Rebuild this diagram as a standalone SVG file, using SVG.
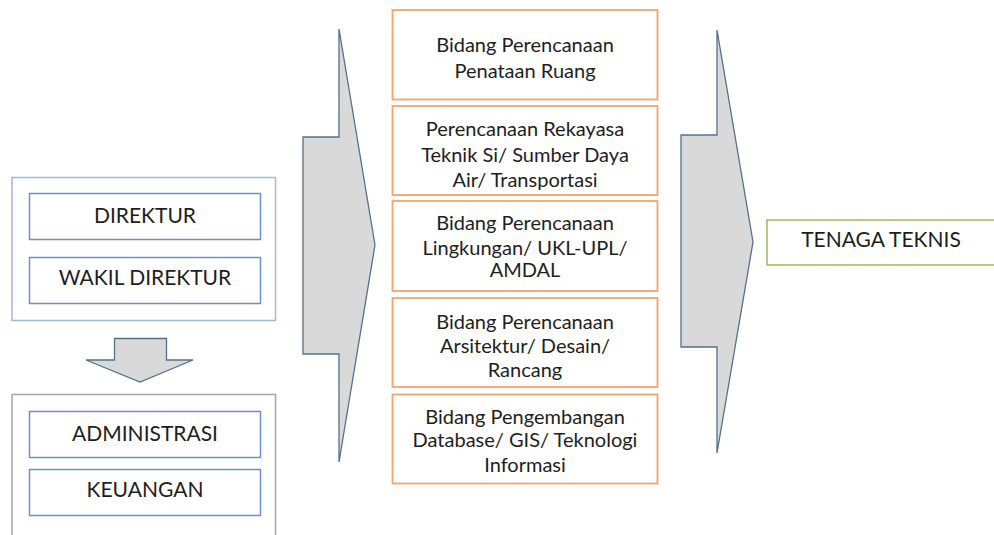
<svg xmlns="http://www.w3.org/2000/svg" width="994" height="535" viewBox="0 0 994 535">
<style>
text{font-family:Lato,"Liberation Sans",sans-serif;fill:#1e1e1e;text-anchor:middle;}
.t{font-size:20px;}
.c{font-size:21px;}
.ob{fill:#fff;stroke:#a3b8db;stroke-width:1.5;}
.og{fill:#fff;stroke:#a6a6a6;stroke-width:1.5;}
.ib{fill:#fff;stroke:#6f8fc7;stroke-width:1.5;}
.or{fill:#fff;stroke:#f2a46e;stroke-width:1.8;}
.gr{fill:#fff;stroke:#9bbb59;stroke-width:1.5;}
.ar{fill:#d9d9d9;stroke:#55708f;stroke-width:1.3;}
</style>
<rect width="994" height="535" fill="#fff"/>
<g id="connectors">
<polygon class="ar" points="114.5,338.5 166.5,338.5 166.5,360 193,360 140,382 86,360 114.5,360"/>
<polygon class="ar" points="339,29 375,245 339,462 339,354 303,354 303,137 339,137"/>
<polygon class="ar" points="717,30 753,242 717,453 717,347 681,347 681,135 717,135"/>
</g>
<g id="pimpinan">
<rect class="ob" x="12" y="177.5" width="263.5" height="143"/>
<g id="direktur"><rect class="ib" x="29.5" y="193.5" width="231" height="46"/><text class="c" x="145" y="223">DIREKTUR</text></g>
<g id="wakil"><rect class="ib" x="29.5" y="257.5" width="231" height="46"/><text class="c" x="145" y="285">WAKIL DIREKTUR</text></g>
</g>
<g id="admin-group">
<rect class="og" x="12" y="394.5" width="263.5" height="160"/>
<g id="administrasi"><rect class="ib" x="29.5" y="411.5" width="231" height="46"/><text class="c" x="145" y="440.5">ADMINISTRASI</text></g>
<g id="keuangan"><rect class="ib" x="29.5" y="469.5" width="231" height="46"/><text class="c" x="145" y="497">KEUANGAN</text></g>
</g>
<g id="bidang1"><rect class="or" x="392.5" y="10" width="265" height="89.5"/>
<text class="t" x="525" y="52">Bidang Perencanaan</text><text class="t" x="525" y="78">Penataan Ruang</text></g>
<g id="bidang2"><rect class="or" x="392.5" y="106" width="265" height="89"/>
<text class="t" x="525" y="136">Perencanaan Rekayasa</text><text class="t" x="525" y="161.5">Teknik Si/ Sumber Daya</text><text class="t" x="525" y="186.5">Air/ Transportasi</text></g>
<g id="bidang3"><rect class="or" x="392.5" y="201" width="265" height="90"/>
<text class="t" x="525" y="230">Bidang Perencanaan</text><text class="t" x="525" y="254.5">Lingkungan/ UKL-UPL/</text><text class="t" x="525" y="277">AMDAL</text></g>
<g id="bidang4"><rect class="or" x="392.5" y="298" width="265" height="89"/>
<text class="t" x="525" y="328.5">Bidang Perencanaan</text><text class="t" x="525" y="353">Arsitektur/ Desain/</text><text class="t" x="525" y="377">Rancang</text></g>
<g id="bidang5"><rect class="or" x="392.5" y="394.5" width="265" height="89"/>
<text class="t" x="525" y="423.5">Bidang Pengembangan</text><text class="t" x="525" y="447">Database/ GIS/ Teknologi</text><text class="t" x="525" y="471.5">Informasi</text></g>
<g id="tenaga"><rect class="gr" x="767" y="220" width="230" height="45"/><text class="c" x="881" y="247">TENAGA TEKNIS</text></g>
</svg>
